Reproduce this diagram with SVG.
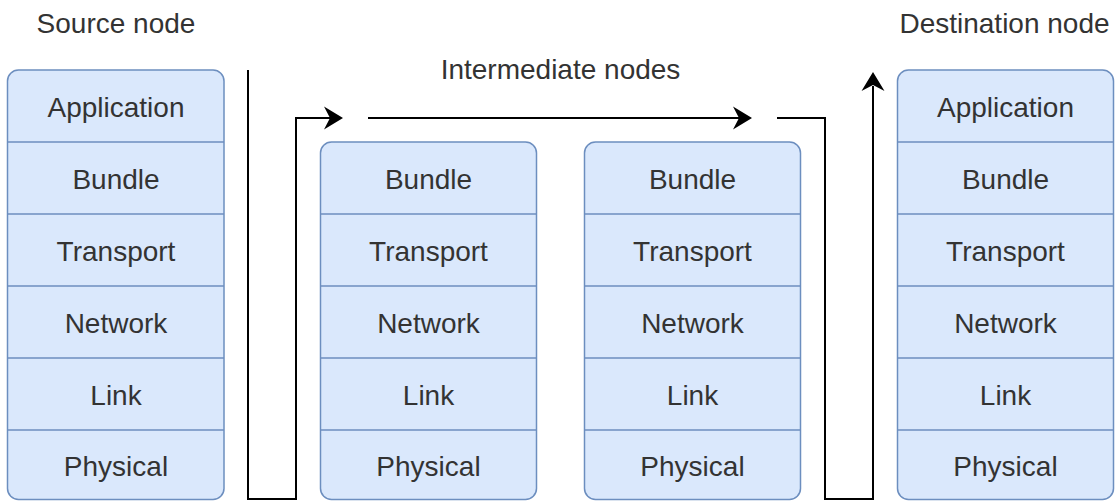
<svg xmlns="http://www.w3.org/2000/svg" width="1119" height="502" viewBox="0 0 1119 502">
  <style>
    .stack { fill: #dae8fc; stroke: #6c8ebf; stroke-width: 1.5; }
    .sep { stroke: #6c8ebf; stroke-width: 1.5; }
    .lbl { font-family: "Liberation Sans", Arial, sans-serif; font-size: 28px; fill: #333333; text-anchor: middle; }
    .wire { fill: none; stroke: #000000; stroke-width: 2; }
    .head { fill: #000000; stroke: none; }
  </style>
  <rect width="1119" height="502" fill="#ffffff"/>

  <!-- titles -->
  <text class="lbl" x="116" y="33">Source node</text>
  <text class="lbl" x="560.5" y="79">Intermediate nodes</text>
  <text class="lbl" x="1004.5" y="33">Destination node</text>

  <!-- source protocol stack -->
  <g id="source-node">
    <rect class="stack" x="7.5" y="70" width="216.5" height="429.5" rx="11"/>
    <line class="sep" x1="7.5" y1="142" x2="224" y2="142"/>
    <line class="sep" x1="7.5" y1="214" x2="224" y2="214"/>
    <line class="sep" x1="7.5" y1="286" x2="224" y2="286"/>
    <line class="sep" x1="7.5" y1="358" x2="224" y2="358"/>
    <line class="sep" x1="7.5" y1="430" x2="224" y2="430"/>
    <text class="lbl" x="116" y="117">Application</text>
    <text class="lbl" x="116" y="189">Bundle</text>
    <text class="lbl" x="116" y="261">Transport</text>
    <text class="lbl" x="116" y="333">Network</text>
    <text class="lbl" x="116" y="405">Link</text>
    <text class="lbl" x="116" y="476">Physical</text>
  </g>

  <!-- first intermediate stack -->
  <g id="intermediate-node-1">
    <rect class="stack" x="320.5" y="142" width="216" height="357.5" rx="11"/>
    <line class="sep" x1="320.5" y1="214" x2="536.5" y2="214"/>
    <line class="sep" x1="320.5" y1="286" x2="536.5" y2="286"/>
    <line class="sep" x1="320.5" y1="358" x2="536.5" y2="358"/>
    <line class="sep" x1="320.5" y1="430" x2="536.5" y2="430"/>
    <text class="lbl" x="428.5" y="189">Bundle</text>
    <text class="lbl" x="428.5" y="261">Transport</text>
    <text class="lbl" x="428.5" y="333">Network</text>
    <text class="lbl" x="428.5" y="405">Link</text>
    <text class="lbl" x="428.5" y="476">Physical</text>
  </g>

  <!-- second intermediate stack -->
  <g id="intermediate-node-2">
    <rect class="stack" x="584.5" y="142" width="216" height="357.5" rx="11"/>
    <line class="sep" x1="584.5" y1="214" x2="800.5" y2="214"/>
    <line class="sep" x1="584.5" y1="286" x2="800.5" y2="286"/>
    <line class="sep" x1="584.5" y1="358" x2="800.5" y2="358"/>
    <line class="sep" x1="584.5" y1="430" x2="800.5" y2="430"/>
    <text class="lbl" x="692.5" y="189">Bundle</text>
    <text class="lbl" x="692.5" y="261">Transport</text>
    <text class="lbl" x="692.5" y="333">Network</text>
    <text class="lbl" x="692.5" y="405">Link</text>
    <text class="lbl" x="692.5" y="476">Physical</text>
  </g>

  <!-- destination protocol stack -->
  <g id="destination-node">
    <rect class="stack" x="897.5" y="70" width="216" height="429.5" rx="11"/>
    <line class="sep" x1="897.5" y1="142" x2="1113.5" y2="142"/>
    <line class="sep" x1="897.5" y1="214" x2="1113.5" y2="214"/>
    <line class="sep" x1="897.5" y1="286" x2="1113.5" y2="286"/>
    <line class="sep" x1="897.5" y1="358" x2="1113.5" y2="358"/>
    <line class="sep" x1="897.5" y1="430" x2="1113.5" y2="430"/>
    <text class="lbl" x="1005.5" y="117">Application</text>
    <text class="lbl" x="1005.5" y="189">Bundle</text>
    <text class="lbl" x="1005.5" y="261">Transport</text>
    <text class="lbl" x="1005.5" y="333">Network</text>
    <text class="lbl" x="1005.5" y="405">Link</text>
    <text class="lbl" x="1005.5" y="476">Physical</text>
  </g>

  <!-- data path: down the source stack, across the intermediates, up the destination -->
  <g id="connectors">
    <path class="wire" d="M248,70 V499 H296 V118 H330"/>
    <path class="head" d="M343,118 L324,106.5 L330,118 L324,129.5 Z"/>
    <path class="wire" d="M368,118 H739"/>
    <path class="head" d="M752,118 L733,106.5 L739,118 L733,129.5 Z"/>
    <path class="wire" d="M777,118 H825 V499 H873 V86"/>
    <path class="head" d="M873,72 L861.5,91 L873,85 L884.5,91 Z"/>
  </g>
</svg>
